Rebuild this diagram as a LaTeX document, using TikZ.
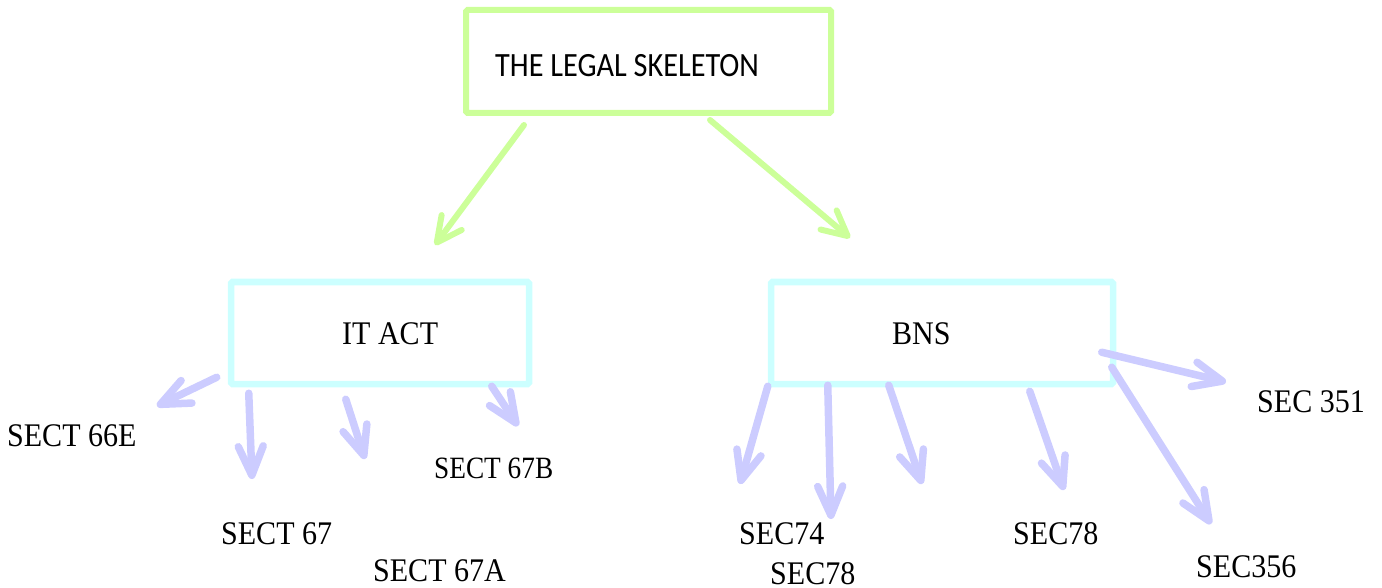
\documentclass[tikz,border=0pt]{standalone}
\usepackage{fontspec}
\usepackage{graphicx}
\setmainfont{Liberation Serif}
\newfontfamily\calib{Carlito}
\usetikzlibrary{arrows.meta}

\definecolor{lime}{RGB}{204,255,153}
\definecolor{aqua}{RGB}{204,255,255}
\definecolor{lilac}{RGB}{204,204,255}

% narrow the lettering a little
\newcommand{\squeeze}[1]{\scalebox{0.91}[1]{#1}}

\tikzset{
  greenbox/.style={draw=lime, line width=6pt, rounded corners=1.5pt,
    inner sep=0pt, minimum width=365pt, minimum height=103pt},
  cyanbox/.style={draw=aqua, line width=6.5pt, rounded corners=1.5pt,
    inner sep=0pt, minimum width=298pt, minimum height=102pt},
  lbl/.style={inner sep=0pt, anchor=base west, font=\fontsize{33}{40}\selectfont},
  greenarrow/.style={draw=lime, line width=6pt, line cap=round,
    -{Straight Barb[length=25pt,width=25pt,round]}},
  purplearrow/.style={draw=lilac, line width=7.5pt, line cap=round,
    -{Straight Barb[length=29pt,width=25pt,round]}},
}

\begin{document}
\begin{tikzpicture}[x=1pt, y=-1pt]
\useasboundingbox (0,0) rectangle (1382,588);

% root
\node[greenbox] (legal) at (648.5,61.5) {};
\node[inner sep=0pt, anchor=base west, font=\calib\fontsize{34}{40}\selectfont]
  (legaltxt) at (495,77) {\scalebox{0.89}[1]{THE LEGAL SKELETON}};

% second level
\node[cyanbox] (itact) at (380,333) {};
\node[lbl] (itacttxt) at (342,344) {\squeeze{IT ACT}};
\node[cyanbox, minimum width=342pt] (bns) at (942,333) {};
\node[lbl] (bnstxt) at (892,344) {\squeeze{BNS}};

% section labels
\node[lbl] (s66e) at (7,446) {\squeeze{SECT 66E}};
\node[lbl] (s67) at (221,544) {\squeeze{SECT 67}};
\node[lbl] (s67a) at (373,581) {\squeeze{SECT 67A}};
\node[lbl, font=\fontsize{31}{38}\selectfont] (s67b) at (434,478) {\scalebox{0.88}[1]{SECT 67B}};
\node[lbl] (s74) at (739,544) {\squeeze{SEC74}};
\node[lbl] (s78a) at (770,584) {\squeeze{SEC78}};
\node[lbl] (s78b) at (1013,544) {\squeeze{SEC78}};
\node[lbl] (s351) at (1257,412) {\squeeze{SEC 351}};
\node[lbl] (s356) at (1196,577) {\squeeze{SEC356}};

% arrow ends
\coordinate (gl) at (435,245);
\coordinate (gr) at (850,238);
\coordinate (t66e) at (157,406);
\coordinate (t67) at (252,479);
\coordinate (t67a) at (365,459);
\coordinate (t67b) at (518,426);
\coordinate (b1) at (740,484);
\coordinate (b2) at (831,519);
\coordinate (b3) at (922,484);
\coordinate (b4) at (1064,490);
\coordinate (b5) at (1226,382);
\coordinate (b6) at (1211,524);

% root to acts
\draw[greenarrow] ([xshift=61pt,yshift=-9pt]legal.south west) -- (gl);
\draw[greenarrow] ([xshift=247pt,yshift=-4pt]legal.south west) -- (gr);

% IT Act sections
\draw[purplearrow] ([xshift=-11pt,yshift=10pt]itact.south west) -- (t66e);
\draw[purplearrow] ([xshift=21pt,yshift=-6pt]itact.south west) -- (t67);
\draw[purplearrow] ([xshift=118pt,yshift=-12pt]itact.south west) -- (t67a);
\draw[purplearrow] ([xshift=264pt,yshift=1pt]itact.south west) -- (t67b);

% BNS sections
\draw[purplearrow] ([yshift=1pt]bns.south west) -- (b1);
\draw[purplearrow] ([xshift=60pt,yshift=2pt]bns.south west) -- (b2);
\draw[purplearrow] ([xshift=121pt,yshift=2pt]bns.south west) -- (b3);
\draw[purplearrow] ([xshift=262pt,yshift=-4pt]bns.south west) -- (b4);
\draw[purplearrow] ([xshift=334pt,yshift=35pt]bns.south west) -- (b5);
\draw[purplearrow] ([xshift=344pt,yshift=20pt]bns.south west) -- (b6);
\end{tikzpicture}
\end{document}
